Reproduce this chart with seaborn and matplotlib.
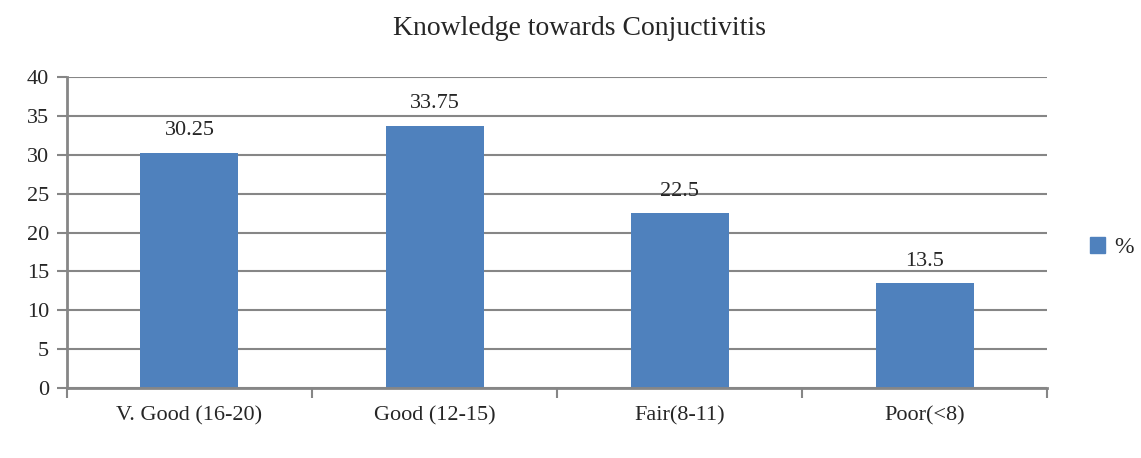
import matplotlib
matplotlib.use("Agg")
import matplotlib.pyplot as plt
import seaborn as sns
import pandas as pd
from matplotlib.patches import Patch

categories = ["V. Good (16-20)", "Good (12-15)", "Fair(8-11)", "Poor(<8)"]
percent = [30.25, 33.75, 22.5, 13.5]
labels = ["30.25", "33.75", "22.5", "13.5"]

df = pd.DataFrame({"Category": categories, "%": percent})

sns.set_style("white")
plt.rcParams['font.family'] = ['Liberation Serif', 'DejaVu Serif']

grey = "#868686"
blue = "#4f81bd"

fig = plt.figure(figsize=(11.41, 4.58), dpi=100)
ax = fig.add_axes([0.0587, 0.1528, 0.859, 0.679])

sns.barplot(x="Category", y="%", data=df, color=blue, width=0.4, ax=ax,
            saturation=1, linewidth=0)

ax.set_xlim(-0.5, 3.5)
ax.set_ylim(0, 40)
ax.set_yticks(range(0, 41, 5))
ax.yaxis.grid(True, color=grey, linewidth=1.5)
ax.set_axisbelow(True)
ax.set_xlabel("")
ax.set_ylabel("")

for s in ["top", "right"]:
    ax.spines[s].set_visible(False)
for s in ["left", "bottom"]:
    ax.spines[s].set_color(grey)
    ax.spines[s].set_linewidth(2)

ax.tick_params(axis="y", length=7, width=1.5, color=grey, labelsize=16, left=True, pad=6)
ax.tick_params(axis="x", which="major", length=0, labelsize=16, pad=13)
ax.set_xticks([-0.5, 0.5, 1.5, 2.5, 3.5], minor=True)
ax.tick_params(axis="x", which="minor", length=7, width=1.5, color=grey, bottom=True)

for i, v in enumerate(percent):
    ax.text(i, v + 1.6, labels[i], ha="center", va="bottom", fontsize=16)

ax.set_title("Knowledge towards Conjuctivitis", fontsize=20, pad=30, x=0.523)

fig.legend(handles=[Patch(color=blue, label="%")], loc="center left",
           bbox_to_anchor=(0.955, 0.46), frameon=False, fontsize=17,
           borderpad=0, borderaxespad=0,
           handlelength=0.65, handleheight=0.7, handletextpad=0.4)

fig.savefig("out.png", dpi=100)
